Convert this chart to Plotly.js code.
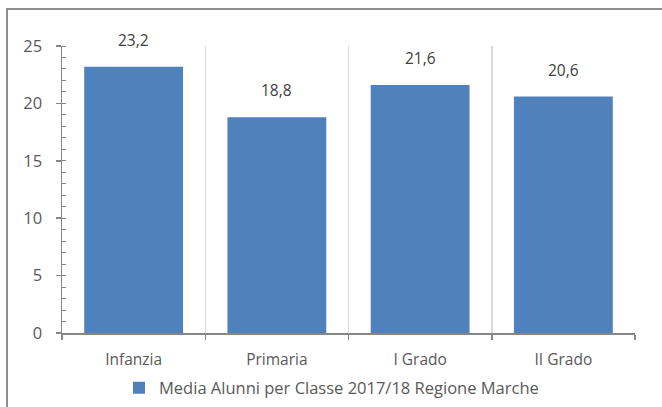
<!DOCTYPE html>
<html>
<head>
<meta charset="utf-8">
<script src="https://cdn.plot.ly/plotly-3.0.1.min.js"></script>
<style>
  html, body { margin: 0; padding: 0; background: #fff; }
  #wrap { position: relative; width: 662px; height: 407px; }
  #chart { width: 662px; height: 407px; }
  #frame { position: absolute; left: 6px; top: 8px; width: 656px; height: 399px;
           border-left: 2px solid #8f8f8f; border-top: 2px solid #8f8f8f;
           pointer-events: none; box-sizing: border-box; }
</style>
</head>
<body>
<div id="wrap">
  <div id="chart"></div>
  <div id="frame"></div>
</div>
<script>
const categories = ["Infanzia", "Primaria", "I Grado", "II Grado"];
const values = [23.2, 18.8, 21.6, 20.6];
const seriesName = "Media Alunni per Classe 2017/18 Regione Marche";
const yTicks = [0, 5, 10, 15, 20, 25];

const font = "Open Sans, sans-serif";
const trace = {
  type: "bar",
  x: categories,
  y: values,
  name: seriesName,
  marker: { color: "#4f81bd" },
  hoverinfo: "x+y"
};

const labels = categories.map((c, i) => ({
  x: c, y: values[i], xref: "x", yref: "y",
  text: values[i].toFixed(1).replace(".", ","),
  showarrow: false, yanchor: "bottom", yshift: 14,
  font: { family: font, size: 15.5, color: "#404040" }
}));

const layout = {
  width: 662, height: 407,
  margin: { l: 62, r: 27, t: 46, b: 74, autoexpand: false },
  paper_bgcolor: "#ffffff",
  plot_bgcolor: "#ffffff",
  separators: ", ",
  bargap: 0.31,
  font: { family: font, size: 15.5, color: "#595959" },
  showlegend: true,
  legend: {
    orientation: "h", x: 0.0995, xanchor: "left", y: -0.1916, yanchor: "middle",
    font: { family: font, size: 16.5, color: "#595959" },
    itemwidth: 30
  },
  annotations: labels,
  xaxis: {
    type: "category",
    range: [-0.5, 3.5],
    tickson: "boundaries",
    showgrid: true, gridcolor: "#d9d9d9", gridwidth: 1.5,
    showline: true, linecolor: "#868686", linewidth: 1.5,
    ticks: "outside", ticklen: 5, tickcolor: "#868686", tickwidth: 1.5,
    ticklabelstandoff: 12,
    tickfont: { family: font, size: 15.5, color: "#595959" },
    fixedrange: true
  },
  yaxis: {
    range: [0, 25],
    tickvals: yTicks,
    ticktext: yTicks.map(String),
    showgrid: false,
    zeroline: false,
    showline: true, linecolor: "#868686", linewidth: 1.5,
    ticks: "outside", ticklen: 5, tickcolor: "#868686", tickwidth: 1.5,
    ticklabelstandoff: 10,
    minor: { dtick: 1, ticks: "inside", ticklen: 4, tickcolor: "#868686", tickwidth: 1, showgrid: false },
    tickfont: { family: font, size: 16.5, color: "#595959" },
    fixedrange: true
  }
};

Plotly.newPlot("chart", [trace], layout, { displayModeBar: false, staticPlot: true });
</script>
</body>
</html>
